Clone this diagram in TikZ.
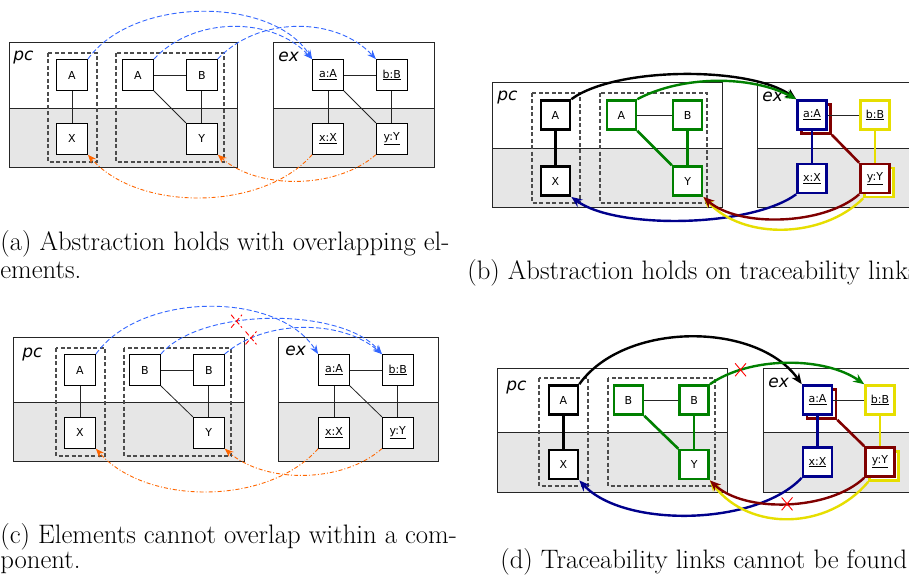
\documentclass[tikz,border=0pt]{standalone}
\usepackage{fontspec}
\setsansfont{DejaVu Sans}
\usetikzlibrary{arrows.meta,positioning,shapes.misc}

\definecolor{linkblue}{RGB}{51,102,255}
\definecolor{linkorange}{RGB}{255,102,0}
\definecolor{navyline}{RGB}{0,0,140}
\definecolor{maroonline}{RGB}{128,0,0}
\definecolor{yellowline}{RGB}{230,222,0}
\definecolor{greenline}{RGB}{0,128,0}
\definecolor{lowgray}{RGB}{230,230,230}

\begin{document}
\begin{tikzpicture}[
    x = 1pt, y = -1pt, % one unit per pixel, y downwards
    > = Stealth, % arrow head style
    node distance = 32pt, % gap between boxes
    semithick % line style
    ]

    \tikzset{
    elem/.style = {draw = black, fill = white, line width = 0.8pt, minimum size = 31pt,
        inner sep = 0pt, font = \sffamily\fontsize{11}{13}\selectfont},
    boldelem/.style = {elem, line width = 2.6pt, minimum size = 29pt},
    conn/.style = {draw = black!85, line width = 0.8pt},
    boldconn/.style = {line width = 2.6pt},
    frame/.style = {draw = black!85, line width = 0.9pt},
    groupbox/.style = {draw = black!70, line width = 1.1pt, dash pattern = on 4pt off 2.5pt},
    lbl/.style = {anchor = base west, inner sep = 0pt, font = \sffamily\itshape\fontsize{17}{20}\selectfont},
    uplink/.style = {->, linkblue, line width = 0.9pt, dash pattern = on 5pt off 2.5pt,
        >={Stealth[length=9pt, width=7pt]}},
    downlink/.style = {->, linkorange, line width = 0.9pt, dash pattern = on 4pt off 2pt on 1pt off 2pt,
        >={Stealth[length=9pt, width=7pt]}},
    boldlink/.style = {->, line width = 2.4pt, >={Stealth[length=11pt, width=9pt]}},
    crossmark/.style = {cross out, draw = red, line width = 0.9pt, minimum width = 10pt,
        minimum height = 12pt, inner sep = 0pt},
    caption/.style = {anchor = base west, inner sep = 0pt, font = \fontsize{26.7}{28}\selectfont}
    }

    \useasboundingbox (0,0) rectangle (909,575);
    \clip (0,0) rectangle (909,575);

    % (a) overlapping elements
    \fill[lowgray] (9,108) rectangle (237,167);
    \draw[frame] (9,42) rectangle (237,167) (9,108) -- (237,108);
    \fill[lowgray] (273,108) rectangle (434,167);
    \draw[frame] (273,42) rectangle (434,167) (273,108) -- (434,108);
    \node[lbl] (pcA) at (13,61) {pc};
    \node[lbl] (exA) at (278,62) {ex};
    \draw[groupbox] (48,53) rectangle (97,162);
    \draw[groupbox] (116,53) rectangle (224,162);

    \node[elem] (aA1) at (72,75) {A};
    \node[elem] (aX1) [below=of aA1] {X};
    \node[elem] (aA2) at (138,75) {A};
    \node[elem] (aB2) [right=of aA2] {B};
    \node[elem] (aY2) [below=of aB2] {Y};
    \node[elem] (aa) at (328,75) {\underline{a:A}};
    \node[elem] (ab) [right=of aa] {\underline{b:B}};
    \node[elem] (ax) [below=of aa] {\underline{x:X}};
    \node[elem] (ay) [below=of ab] {\underline{y:Y}};

    \draw[conn] (aA1) -- (aX1);
    \draw[conn] (aA2) -- (aB2);
    \draw[conn] (aB2) -- (aY2);
    \draw[conn] (aA2.south east) -- (aY2.north west);
    \draw[conn] (aa) -- (ab);
    \draw[conn] (aa) -- (ax);
    \draw[conn] (ab) -- (ay);
    \draw[conn] (aa.south east) -- (ay.north west);

    \draw[uplink] (aA1.north east) .. controls +(45,-63) and +(-40,-63) .. (aa.north west);
    \draw[uplink] (aA2.north east) .. controls +(40,-43) and +(-40,-43) .. (aa.north west);
    \draw[uplink] (aB2.north east) .. controls +(40,-43) and +(-40,-43) .. (ab.north west);
    \draw[downlink] (ax.south west) .. controls +(-50,57) and +(50,57) .. (aX1.south east);
    \draw[downlink] (ay.south west) .. controls +(-40,35) and +(40,35) .. (aY2.south east);

    % (b) traceability links
    \fill[lowgray] (492,148) rectangle (722,207);
    \draw[frame] (492,82) rectangle (722,207) (492,148) -- (722,148);
    \fill[lowgray] (757,148) rectangle (935,207);
    \draw[frame] (757,82) rectangle (935,207) (757,148) -- (935,148);
    \node[lbl] (pcB) at (497,101) {pc};
    \node[lbl] (exB) at (762,102) {ex};
    \draw[groupbox] (532,93) rectangle (580,203);
    \draw[groupbox] (600,93) rectangle (707,203);

    \node[boldelem] (bA1) at (555.5,115) {A};
    \node[boldelem] (bX1) [below=34.5pt of bA1] {X};
    \node[boldelem, draw=greenline] (bA2) at (621.5,115) {A};
    \node[boldelem, draw=greenline] (bB2) [right=34.5pt of bA2] {B};
    \node[boldelem, draw=greenline] (bY2) [below=34.5pt of bB2] {Y};
    \node[boldelem, draw=maroonline] (baS) at (816,119) {};
    \node[boldelem, draw=navyline] (ba) at (812,115) {\underline{a:A}};
    \node[boldelem, draw=yellowline] (bb) at (875,115) {\underline{b:B}};
    \node[boldelem, draw=navyline] (bx) at (812,178.5) {\underline{x:X}};
    \node[boldelem, draw=yellowline] (byS) at (879,182.5) {};
    \node[boldelem, draw=maroonline] (by) at (875,178.5) {\underline{y:Y}};

    \draw[boldconn] (bA1) -- (bX1);
    \draw[conn] (bA2) -- (bB2);
    \draw[boldconn, greenline] (bB2) -- (bY2);
    \draw[boldconn, greenline] (bA2.south east) -- (bY2.north west);
    \draw[conn] (ba) -- (bb);
    \draw[boldconn, navyline] (ba) -- (bx);
    \draw[boldconn, yellowline] (bb) -- (by);
    \draw[boldconn, maroonline] (baS.south east) -- (by.north west);

    \draw[boldlink, black] (bA1.north east) .. controls +(45,-33) and +(-45,-33) .. (ba.north west);
    \draw[boldlink, greenline] (bA2.north east) .. controls +(45,-24) and +(-45,-24) .. (ba.north west);
    \draw[boldlink, navyline] (bx.south west) .. controls +(-45,33) and +(45,33) .. (bX1.south east);
    \draw[boldlink, yellowline] (byS.south west) .. controls +(-40,40) and +(40,44) .. (bY2.south east);
    \draw[boldlink, maroonline] (by.south west) .. controls +(-35,31) and +(35,31) .. (bY2.south east);

    % (c) overlap within a component
    \fill[lowgray] (13,402) rectangle (244,461);
    \draw[frame] (13,337) rectangle (244,461) (13,402) -- (244,402);
    \fill[lowgray] (278,402) rectangle (438,461);
    \draw[frame] (278,337) rectangle (438,461) (278,402) -- (438,402);
    \node[lbl] (pcC) at (22,357) {pc};
    \node[lbl] (exC) at (285,355) {ex};
    \draw[groupbox] (56,348) rectangle (105,456);
    \draw[groupbox] (124,348) rectangle (231,456);

    \node[elem] (cA1) at (80,370) {A};
    \node[elem] (cX1) [below=31pt of cA1] {X};
    \node[elem] (cB1) at (145,370) {B};
    \node[elem] (cB2) [right=of cB1] {B};
    \node[elem] (cY2) [below=31pt of cB2] {Y};
    \node[elem] (ca) at (334,370) {\underline{a:A}};
    \node[elem] (cb) [right=of ca] {\underline{b:B}};
    \node[elem] (cx) [below=31pt of ca] {\underline{x:X}};
    \node[elem] (cy) [below=31pt of cb] {\underline{y:Y}};

    \draw[conn] (cA1) -- (cX1);
    \draw[conn] (cB1) -- (cB2);
    \draw[conn] (cB2) -- (cY2);
    \draw[conn] (cB1.south east) -- (cY2.north west);
    \draw[conn] (ca) -- (cb);
    \draw[conn] (ca) -- (cx);
    \draw[conn] (cb) -- (cy);
    \draw[conn] (ca.south east) -- (cy.north west);

    \draw[uplink] (cA1.north east) .. controls +(45,-63) and +(-40,-63) .. (ca.north west);
    \draw[uplink] (cB1.north east) .. controls +(40,-47) and +(-40,-47) .. node[pos=0.37, crossmark] (cno1) {} (cb.north west);
    \draw[uplink] (cB2.north east) .. controls +(40,-35) and +(-40,-35) .. node[pos=0.19, crossmark] (cno2) {} (cb.north west);
    \draw[downlink] (cx.south west) .. controls +(-50,57) and +(50,57) .. (cX1.south east);
    \draw[downlink] (cy.south west) .. controls +(-40,35) and +(40,35) .. (cY2.south east);

    % (d) links not found
    \fill[lowgray] (497,432) rectangle (727,492);
    \draw[frame] (497,368) rectangle (727,492) (497,432) -- (727,432);
    \fill[lowgray] (763,432) rectangle (935,492);
    \draw[frame] (763,368) rectangle (935,492) (763,432) -- (935,432);
    \node[lbl] (pcD) at (506,390) {pc};
    \node[lbl] (exD) at (768,387) {ex};
    \draw[groupbox] (539,378) rectangle (588,486);
    \draw[groupbox] (608,378) rectangle (715,486);

    \node[boldelem] (dA1) at (563.5,400) {A};
    \node[boldelem] (dX1) [below=33pt of dA1] {X};
    \node[boldelem, draw=greenline] (dB1) at (628.5,400) {B};
    \node[boldelem, draw=greenline] (dB2) [right=34pt of dB1] {B};
    \node[boldelem, draw=greenline] (dY2) [below=33pt of dB2] {Y};
    \node[boldelem, draw=maroonline] (daS) at (821.5,404) {};
    \node[boldelem, draw=navyline] (da) at (817.5,400) {\underline{a:A}};
    \node[boldelem, draw=yellowline] (db) at (880,400) {\underline{b:B}};
    \node[boldelem, draw=navyline] (dx) at (817.5,462) {\underline{x:X}};
    \node[boldelem, draw=yellowline] (dyS) at (884,466) {};
    \node[boldelem, draw=maroonline] (dy) at (880,462) {\underline{y:Y}};

    \draw[boldconn] (dA1) -- (dX1);
    \draw[conn] (dB1) -- (dB2);
    \draw[boldconn, greenline] (dB2) -- (dY2);
    \draw[boldconn, greenline] (dB1.south east) -- (dY2.north west);
    \draw[conn] (da) -- (db);
    \draw[boldconn, navyline] (da) -- (dx);
    \draw[boldconn, yellowline] (db) -- (dy);
    \draw[boldconn, maroonline] (daS.south east) -- (dy.north west);

    \draw[boldlink, black] (dA1.north east) .. controls +(45,-63) and +(-45,-63) .. (da.north west);
    \draw[boldlink, greenline] (dB2.north east) .. controls +(40,-28) and +(-40,-28) .. node[pos=0.22, crossmark] (dno1) {} (db.north west);
    \draw[boldlink, navyline] (dx.south west) .. controls +(-45,48) and +(45,48) .. (dX1.south east);
    \draw[boldlink, yellowline] (dyS.south west) .. controls +(-40,48) and +(40,52) .. (dY2.south east);
    \draw[boldlink, maroonline] (dy.south west) .. controls +(-35,33) and +(35,33) .. node[pos=0.5, crossmark] (dno2) {} (dY2.south east);

    % captions
    \node[caption] (capA1) at (0,250) {(a) Abstraction holds with overlapping el-};
    \node[caption] (capA2) at (0,278) {ements.};
    \node[caption] (capB) at (467,279) {(b) Abstraction holds on traceability links.};
    \node[caption] (capC1) at (0,543) {(c) Elements cannot overlap within a com-};
    \node[caption] (capC2) at (0,568.5) {ponent.};
    \node[caption] (capD) at (500,568.5) {(d) Traceability links cannot be found.};
\end{tikzpicture}
\end{document}
